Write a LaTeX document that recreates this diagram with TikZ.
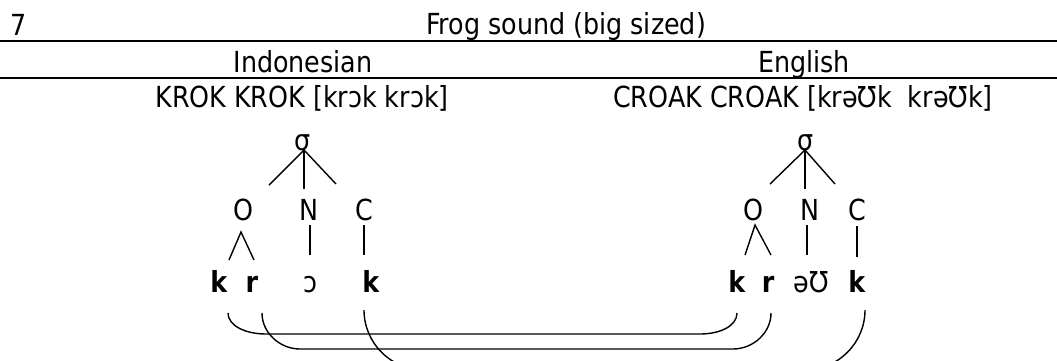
\documentclass[tikz,border=0pt]{standalone}
\usepackage{fontspec}
\setmainfont{DejaVu Sans}[FakeStretch=0.875]
\begin{document}
\begin{tikzpicture}[x=1pt,y=-1pt,
  txt/.style={anchor=base,inner sep=0pt,font=\fontsize{29}{34}\selectfont},
  rule/.style={line width=1.8pt},
  branch/.style={line width=1.4pt},
  link/.style={line width=1.4pt}]
\useasboundingbox (0,0) rectangle (1057,360);
\begin{scope}
\clip (0,0) rectangle (1057,360);
% header
\node[txt,anchor=base west] (num) at (10,35) {7};
\node[txt] (title) at (566,34) {Frog sound (big sized)};
\coordinate (r1a) at (0,41); \coordinate (r1b) at (1057,41);
\draw[rule] (r1a) -- (r1b);
\node[txt] (indo) at (303,72) {Indonesian};
\node[txt] (eng) at (804,72) {English};
\coordinate (r2a) at (0,78); \coordinate (r2b) at (1057,78);
\draw[rule] (r2a) -- (r2b);
\node[txt] (krok) at (302,107) {KROK KROK [krɔk krɔk]};
\node[txt] (croak) at (803,107) {CROAK CROAK [krəƱk\ \ krəƱk]};

% left tree
\node[txt] (sL) at (303,150) {σ};
\node[txt] (oL) at (243,220) {O};
\node[txt] (nL) at (309,220) {N};
\node[txt] (cL) at (364,220) {C};
\node[txt] (k1) at (219,292) {\textbf{k}};
\node[txt] (r1) at (252,292) {\textbf{r}};
\node[txt] (v1) at (310,292) {ɔ};
\node[txt] (k2) at (371,292) {\textbf{k}};
\coordinate (sLb) at (304,150);
\coordinate (sLo) at (269,185);
\coordinate (sLn) at (304,189);
\coordinate (sLc) at (336,184);
\draw[branch] (sLo) -- (sLb) -- (sLc);
\draw[branch] (sLb) -- (sLn);
\coordinate (oLt) at (241,232);
\coordinate (oLa) at (229,260);
\coordinate (oLb) at (254,260);
\draw[branch] (oLa) -- (oLt) -- (oLb);
\coordinate (nLt) at (310,225); \coordinate (nLb) at (310,255);
\draw[branch] (nLt) -- (nLb);
\coordinate (cLt) at (364,225); \coordinate (cLb) at (364,255);
\draw[branch] (cLt) -- (cLb);

% right tree
\node[txt] (sR) at (806,150) {σ};
\node[txt] (oR) at (753,220) {O};
\node[txt] (nR) at (810,220) {N};
\node[txt] (cR) at (857,220) {C};
\node[txt] (k3) at (737,292) {\textbf{k}};
\node[txt] (r3) at (768,292) {\textbf{r}};
\node[txt] (v3) at (811,292) {əƱ};
\node[txt] (k4) at (857,292) {\textbf{k}};
\coordinate (sRb) at (805,150);
\coordinate (sRo) at (770,184);
\coordinate (sRn) at (805,189);
\coordinate (sRc) at (835,184);
\draw[branch] (sRo) -- (sRb) -- (sRc);
\draw[branch] (sRb) -- (sRn);
\coordinate (oRt) at (755,225);
\coordinate (oRa) at (745,255);
\coordinate (oRb) at (771,255);
\draw[branch] (oRa) -- (oRt) -- (oRb);
\coordinate (nRt) at (807,225); \coordinate (nRb) at (807,255);
\draw[branch] (nRt) -- (nRb);
\coordinate (cRt) at (857,226); \coordinate (cRb) at (857,257);
\draw[branch] (cRt) -- (cRb);

% links
\coordinate (a1) at (228,313); \coordinate (b1) at (737,313);
\coordinate (a2) at (262,313); \coordinate (b2) at (771,313);
\coordinate (a3) at (364,310); \coordinate (b3) at (865,310);
\draw[link] (a1) .. controls (228,326) and (246,334) .. (266,334)
  -- (700,334) .. controls (720,334) and (737,326) .. (b1);
\draw[link] (a2) .. controls (262,333) and (280,349) .. (300,349)
  -- (733,349) .. controls (753,349) and (771,333) .. (b2);
\draw[link] (a3) .. controls (364,343) and (391,370) .. (424,370)
  -- (805,370) .. controls (838,370) and (865,343) .. (b3);
\end{scope}
\end{tikzpicture}
\end{document}
